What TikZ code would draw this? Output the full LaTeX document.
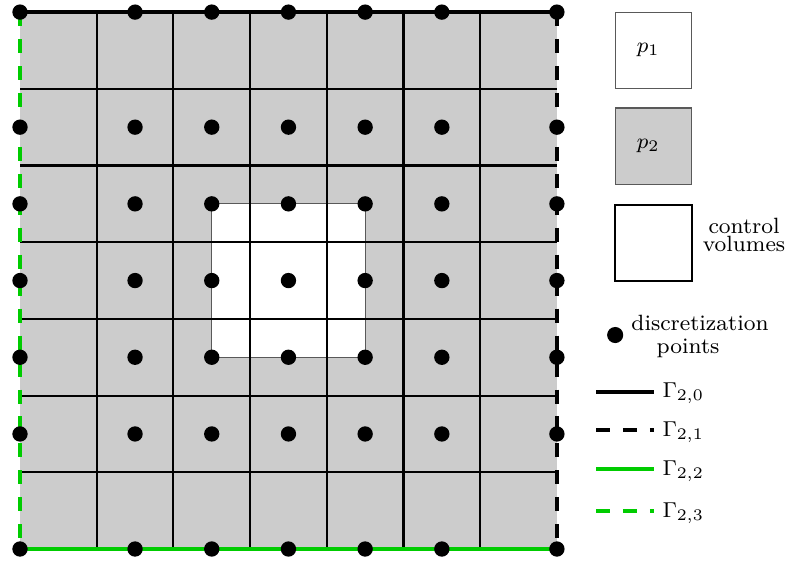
\documentclass[tikz,border=0pt]{standalone}
\definecolor{mygreen}{RGB}{0,204,0}
\definecolor{cellgray}{gray}{0.8}
\begin{document}
\begin{tikzpicture}[
  gridline/.style={line width=0.8pt, draw=black},
  bnd/.style={line width=1.5pt},
  dashy/.style={dash pattern=on 5.2pt off 4.8pt},
  dpt/.style={circle, fill=black, inner sep=0pt, minimum size=0.2cm},
  lbl/.style={font=\fontsize{8.2}{10}\selectfont, inner sep=0pt},
  thinbox/.style={draw=gray!70!black, line width=0.4pt, minimum size=1cm, inner sep=0pt}
]
\useasboundingbox (-0.2608,-0.1434) rectangle (9.987,7.158);
% corners
\coordinate (SW) at (0,0);
\coordinate (SE) at (7,0);
\coordinate (NE) at (7,7);
\coordinate (NW) at (0,7);
% background
\fill[cellgray] (SW) rectangle (NE);
\fill[white] (2.5,2.5) rectangle (4.5,4.5);
\draw[gray!70!black, line width=0.4pt] (2.5,2.5) rectangle (4.5,4.5);
% grid
\foreach \i in {1,...,6} {
  \draw[gridline] (\i,0) -- (\i,7);
  \draw[gridline] (0,\i) -- (7,\i);
}
% boundaries
\draw[bnd] (NW) -- (NE);
\draw[bnd, dashy] (NE) -- (SE);
\draw[bnd, mygreen] (SW) -- (SE);
\draw[bnd, mygreen, dashy] (NW) -- (SW);
% discretization points
\foreach \i in {1,...,5} {
  \foreach \j in {1,...,5} {
    \node[dpt] (c\i\j) at (\i+0.5,\j+0.5) {};
  }
  \node[dpt] (t\i) at (\i+0.5,7) {};
  \node[dpt] (b\i) at (\i+0.5,0) {};
  \node[dpt] (l\i) at (0,\i+0.5) {};
  \node[dpt] (r\i) at (7,\i+0.5) {};
}
\node[dpt] (cSW) at (SW) {};
\node[dpt] (cSE) at (SE) {};
\node[dpt] (cNE) at (NE) {};
\node[dpt] (cNW) at (NW) {};
% legend boxes
\node[thinbox, fill=white] (box1) at (8.26,6.5) {};
\node[lbl, anchor=base] (p1) at (8.19,6.47) {$p_1$};
\node[thinbox, fill=cellgray] (box2) at (8.26,5.25) {};
\node[lbl, anchor=base] (p2) at (8.19,5.22) {$p_2$};
\node[draw=black, line width=0.8pt, minimum size=1cm, inner sep=0pt] (box3) at (8.26,3.99) {};
\node[lbl, anchor=base] (cv1) at (9.44,4.12) {control};
\node[lbl, anchor=base] (cv2) at (9.44,3.885) {volumes};
% legend point
\node[dpt, minimum size=0.21cm] (ldot) at (7.76,2.79) {};
\node[lbl, anchor=base] (dp1) at (8.866,2.855) {discretization};
\node[lbl, anchor=base] (dp2) at (8.71,2.555) {points};
% legend lines
\coordinate (g0a) at (7.51,2.05); \coordinate (g0b) at (8.27,2.05);
\coordinate (g1a) at (7.51,1.55); \coordinate (g1b) at (8.27,1.55);
\coordinate (g2a) at (7.51,1.04); \coordinate (g2b) at (8.27,1.04);
\coordinate (g3a) at (7.51,0.49); \coordinate (g3b) at (8.27,0.49);
\draw[bnd] (g0a) -- (g0b);
\draw[bnd, dashy] (g1a) -- (g1b);
\draw[bnd, mygreen] (g2a) -- (g2b);
\draw[bnd, mygreen, dashy] (g3a) -- (g3b);
\node[lbl, anchor=base west] (G0) at (8.37,1.97) {$\Gamma_{2,0}$};
\node[lbl, anchor=base west] (G1) at (8.37,1.47) {$\Gamma_{2,1}$};
\node[lbl, anchor=base west] (G2) at (8.37,0.96) {$\Gamma_{2,2}$};
\node[lbl, anchor=base west] (G3) at (8.37,0.41) {$\Gamma_{2,3}$};
\end{tikzpicture}
\end{document}
